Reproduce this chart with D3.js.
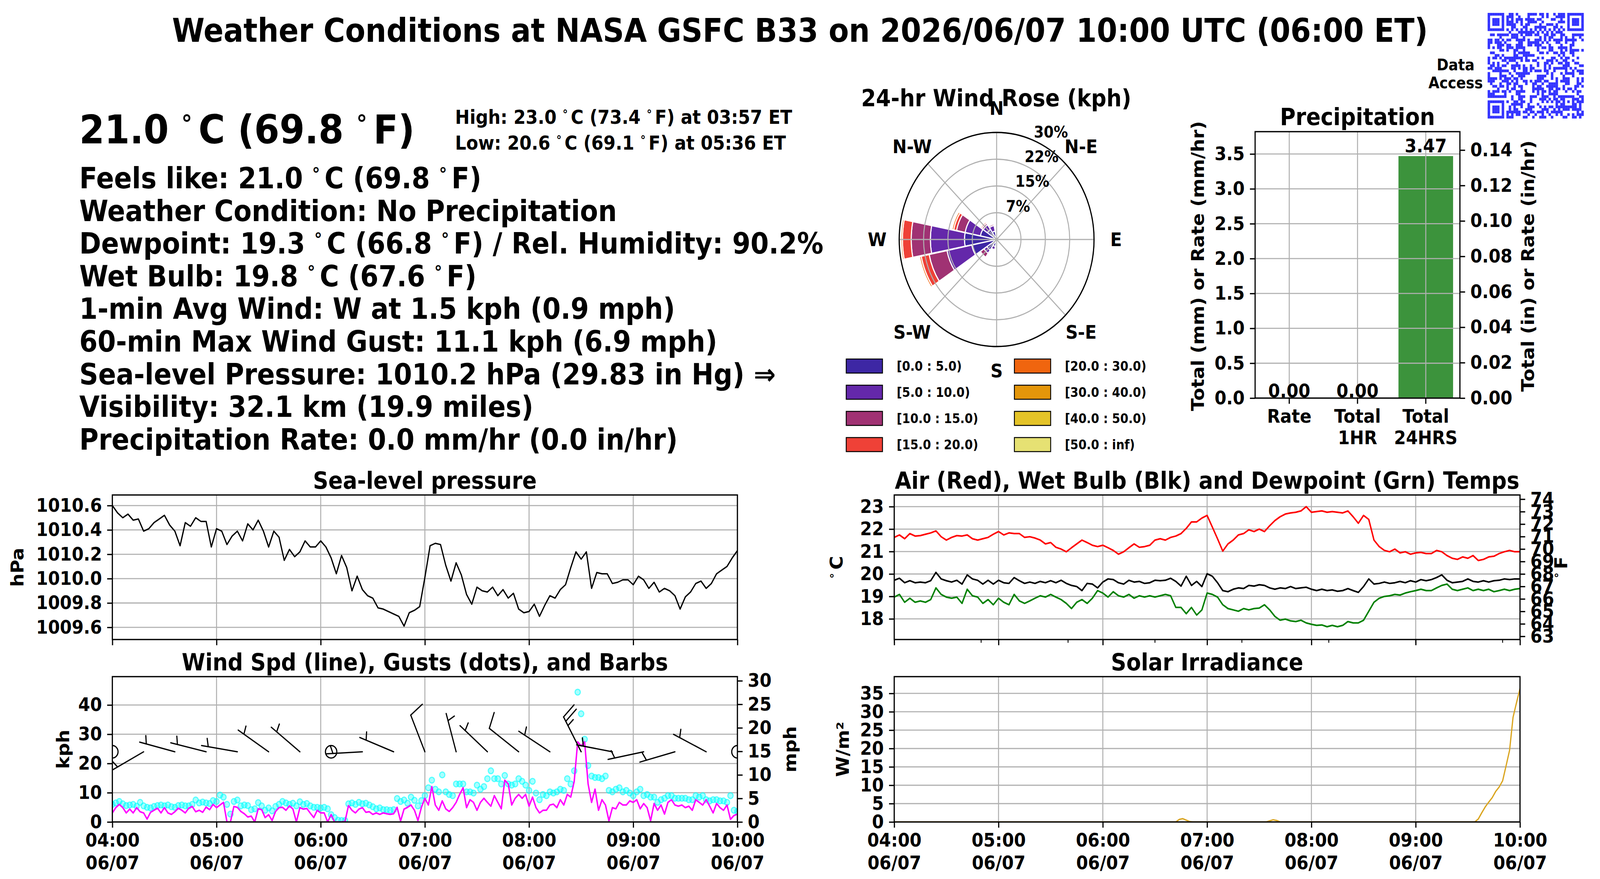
<!DOCTYPE html>
<html>
<head>
<meta charset="utf-8">
<script src="https://cdn.jsdelivr.net/npm/d3@7/dist/d3.min.js"></script>
<style>
  html, body { margin: 0; padding: 0; background: #fff; width: 100%; height: 100%; overflow: hidden; }
  #chart { display: block; width: 100vw; height: 100vh; }
  svg text { font-family: "DejaVu Sans", sans-serif; font-weight: bold; fill: #000; white-space: pre; }
</style>
</head>
<body>
<svg id="chart" viewBox="0 0 4500 2250" preserveAspectRatio="none"></svg>
<script>
// ---- data (06/07 04:00 - 10:00 UTC) ----

// sea-level pressure, hPa, one value every 3 min from 04:00
var pressure = [1010.60,1010.54,1010.50,1010.53,1010.48,1010.49,1010.39,1010.41,1010.46,1010.49,
  1010.52,1010.44,1010.39,1010.27,1010.46,1010.43,1010.50,1010.47,1010.47,1010.26,
  1010.41,1010.39,1010.28,1010.35,1010.39,1010.31,1010.45,1010.40,1010.48,1010.39,
  1010.26,1010.39,1010.34,1010.15,1010.24,1010.18,1010.22,1010.31,1010.26,1010.26,
  1010.31,1010.26,1010.17,1010.04,1010.19,1010.09,1009.90,1010.02,1009.91,1009.86,
  1009.84,1009.76,1009.75,1009.73,1009.71,1009.69,1009.61,1009.72,1009.74,1009.77,
  1010.01,1010.27,1010.29,1010.28,1010.11,1009.98,1010.13,1010.03,1009.87,1009.79,
  1009.93,1009.90,1009.89,1009.93,1009.86,1009.91,1009.84,1009.88,1009.75,1009.72,
  1009.73,1009.79,1009.69,1009.78,1009.86,1009.84,1009.91,1009.95,1010.09,1010.22,
  1010.16,1010.22,1009.92,1010.05,1010.04,1010.04,1009.96,1009.97,1009.99,1009.99,
  1009.95,1010.02,1009.99,1009.92,1009.97,1009.89,1009.92,1009.90,1009.86,1009.75,
  1009.85,1009.89,1009.96,1009.98,1009.92,1009.96,1010.04,1010.07,1010.10,1010.17,
  1010.23];

// temperatures, deg C, every 3 min from 04:00
var airTemp = [21.63,21.74,21.57,21.80,21.69,21.71,21.77,21.83,21.92,21.66,
  21.51,21.63,21.71,21.69,21.74,21.57,21.51,21.57,21.63,21.77,
  21.89,21.74,21.83,21.80,21.80,21.63,21.66,21.60,21.51,21.34,
  21.40,21.19,21.11,20.99,21.17,21.34,21.51,21.40,21.28,21.22,
  21.28,21.17,21.05,20.88,20.99,21.17,21.34,21.19,21.22,21.28,
  21.51,21.57,21.51,21.63,21.69,21.80,22.03,22.32,22.32,22.49,
  22.61,22.09,21.57,21.02,21.34,21.51,21.74,21.80,21.97,21.89,
  22.00,21.89,22.15,22.38,22.55,22.67,22.72,22.75,22.81,23.00,
  22.75,22.78,22.81,22.75,22.78,22.75,22.72,22.81,22.55,22.26,
  22.61,22.43,21.51,21.22,21.05,20.99,21.11,20.94,20.99,20.88,
  20.94,20.96,20.91,20.91,21.05,20.99,20.82,20.70,20.65,20.76,
  20.70,20.82,20.60,20.65,20.76,20.79,20.91,20.99,21.05,20.99,
  20.99];
var wetBulb = [19.72,19.81,19.61,19.70,19.61,19.64,19.61,19.70,20.07,19.78,
  19.70,19.64,19.72,19.55,19.96,19.78,19.72,19.55,19.72,19.55,
  19.72,19.61,19.58,19.84,19.70,19.58,19.64,19.58,19.67,19.61,
  19.70,19.61,19.72,19.58,19.49,19.44,19.26,19.58,19.55,19.38,
  19.64,19.78,19.75,19.61,19.55,19.72,19.64,19.67,19.58,19.61,
  19.72,19.70,19.72,19.81,19.67,19.46,19.90,19.49,19.67,19.44,
  20.01,19.90,19.61,19.26,19.21,19.32,19.38,19.35,19.49,19.46,
  19.52,19.49,19.38,19.32,19.38,19.35,19.44,19.35,19.38,19.41,
  19.32,19.26,19.32,19.26,19.29,19.23,19.26,19.35,19.26,19.18,
  19.44,19.78,19.55,19.58,19.64,19.58,19.61,19.67,19.61,19.70,
  19.64,19.75,19.70,19.75,19.84,19.96,19.72,19.61,19.64,19.67,
  19.78,19.67,19.64,19.70,19.64,19.70,19.72,19.78,19.75,19.78,
  19.78];
var dewPoint = [18.97,19.09,18.74,18.92,18.74,18.80,18.74,18.86,19.38,19.09,
  18.97,18.92,18.97,18.69,19.32,19.03,18.97,18.69,18.86,18.63,
  18.92,18.74,18.63,19.09,18.80,18.69,18.80,18.92,19.03,18.97,
  19.09,18.97,18.86,18.69,18.46,18.74,18.86,18.69,18.92,19.26,
  19.15,18.97,19.21,19.03,18.97,19.09,18.92,19.03,18.97,19.03,
  18.97,19.03,19.09,19.03,18.51,18.51,18.23,18.51,18.17,18.40,
  19.15,19.09,18.97,18.63,18.46,18.40,18.34,18.46,18.40,18.46,
  18.48,18.63,18.40,18.11,17.94,17.99,17.91,17.88,17.94,17.82,
  17.76,17.71,17.73,17.65,17.71,17.65,17.71,17.88,17.82,17.82,
  17.94,18.34,18.74,18.92,19.00,19.03,19.09,19.06,19.15,19.21,
  19.26,19.32,19.26,19.26,19.38,19.49,19.55,19.32,19.26,19.32,
  19.38,19.26,19.32,19.26,19.32,19.21,19.26,19.32,19.26,19.32,
  19.35];

// wind speed and gusts, kph, every 2 min from 04:00
var windSpd = [3.1,4.9,6.0,4.9,3.1,4.4,3.1,4.9,3.5,3.1,
  1.0,3.3,4.0,4.7,3.1,4.9,3.1,2.6,3.5,4.7,
  4.0,3.1,4.7,5.3,3.5,4.0,3.3,5.1,4.2,6.0,
  4.9,5.8,6.7,0,0,5.3,5.0,3.6,2.8,1.7,
  2.0,0,4.5,4.2,1.5,2.5,0.5,3.6,4.9,5.0,
  4.0,5.5,4.4,0,4.9,4.4,4.6,3.0,1.5,4.0,
  3.1,3.1,0,2.5,0,0,0,0.2,5.6,4.0,
  3.1,4.4,4.9,3.3,3.5,2.6,3.1,2.6,3.1,2.8,
  2.6,2.8,5.0,0.3,4.4,5.0,5.8,4.0,0.5,5.0,
  8.1,5.8,12.1,5.8,4.0,7.2,4.5,3.6,4.9,6.7,
  9.4,11.7,4.9,7.6,6.7,4.0,6.7,8.1,6.7,5.4,
  9.0,6.7,4.5,14.3,13.0,5.8,8.1,9.4,8.1,9.4,
  5.4,8.5,4.9,3.1,4.0,4.0,5.8,6.1,4.9,7.6,
  5.8,9.4,8.5,13.9,27.4,26.0,27.4,13.0,6.7,11.2,
  4.0,7.6,5.8,0.4,4.9,4.5,6.7,5.8,5.8,7.2,
  6.7,7.6,4.5,6.3,4.9,0.4,6.3,4.0,5.8,2.7,
  6.7,7.6,5.8,5.4,5.8,4.9,5.4,4.0,7.6,6.7,
  5.8,7.6,5.4,3.1,6.3,4.9,4.0,5.8,0.9,2.2,
  2.7];
var windGust = [6.0,6.5,7.0,6.2,5.6,5.8,6.0,5.4,6.7,5.5,
  5.0,4.8,5.3,5.6,5.8,5.5,5.8,5.2,5.0,5.6,
  5.8,5.5,5.5,6.0,7.5,6.5,6.8,6.5,6.3,7.3,
  7.0,9.2,8.5,6.0,2.7,7.0,7.5,5.5,5.8,5.6,
  4.2,4.5,6.6,5.5,4.0,4.8,3.8,5.3,6.0,7.0,
  6.5,6.0,6.4,5.5,6.9,6.0,6.3,5.5,5.0,5.0,
  4.8,5.0,4.5,2.5,1.5,0.6,0.5,0.5,6.2,6.5,
  6.0,6.7,6.2,6.4,5.8,5.2,4.5,4.8,4.2,4.2,
  4.0,4.2,8.0,7.0,7.5,6.4,8.5,7.4,5.5,7.3,
  9.0,11.7,14.3,11.2,10.3,16.1,10.3,9.4,9.0,13.0,
  13.0,13.0,10.3,10.3,9.9,12.6,11.2,12.1,14.8,17.5,
  14.8,14.8,13.0,15.9,13.0,12.6,13.0,14.8,13.9,12.6,
  10.8,13.9,9.9,7.6,9.4,9.0,10.3,9.9,10.3,11.2,
  10.8,14.8,13.0,17.5,44.4,37.0,28.3,19.3,15.7,15.2,
  15.2,14.8,15.7,10.8,10.3,11.2,11.7,10.3,10.8,9.9,
  9.0,10.3,11.2,9.0,9.4,8.5,8.5,6.7,7.6,8.1,
  9.0,9.0,8.1,8.1,8.1,8.1,7.6,7.6,9.0,8.5,
  9.0,7.6,7.2,7.6,7.6,7.2,7.2,6.7,9.0,4.0,
  3.6];

// solar irradiance, W/m2, every 2 min from 04:00
var solar = [0,0,0,0,0,0,0,0,0,0,0,0,0,0,0,0,0,0,0,0,
  0,0,0,0,0,0,0,0,0,0,0,0,0,0,0,0,0,0,0,0,
  0,0,0,0,0,0,0,0,0,0,0,0,0,0,0,0,0,0,0,0,
  0,0,0,0,0,0,0,0,0,0,0,0,0,0,0,0,0,0,0,0,
  0,0,0.7,0.9,0.5,0.1,0,0,0,0,0,0,0,0,0,0,0,0,0,0,
  0,0,0,0,0,0,0,0,0.3,0.6,0.4,0,0,0,0,0,0,0,0,0,
  0,0,0,0,0,0,0,0,0,0,0,0,0,0,0,0,0,0,0,0,
  0,0,0,0,0,0,0,0,0,0,0,0,0,0,0,0,0,0,0,0,
  0,0,0,0,0,0,0,0,0.8,2.5,4.1,5.4,6.6,8.3,9.5,11.2,15.3,19.5,28.5,32.5,
  36.3];

// wind barbs (kph, direction wind blows from)
var barbTimes = ["04:00","04:18","04:36","04:54","05:12","05:30","05:48","06:06","06:24","06:42",
  "07:00","07:18","07:36","07:54","08:12","08:30","08:48","09:06","09:24","09:42","10:00"];
var barbSpd = [0,5,5,5,5,5,5,0,5,5,10,5,5,10,5,25,5,5,5,5,0];
var barbDir = [0,242,284,283,279,303,308,0,267,291,337,344,311,306,301,331,280,259,255,296,0];
var barbLevel = 24;

// 24-hr wind rose, percent of time per direction and speed bin (kph)
var roseDirs = ["N","NNE","NE","ENE","E","ESE","SE","SSE","S","SSW","SW","WSW","W","WNW","NW","NNW"];
var roseBins = ["[0.0 : 5.0)","[5.0 : 10.0)","[10.0 : 15.0)","[15.0 : 20.0)",
  "[20.0 : 30.0)","[30.0 : 40.0)","[40.0 : 50.0)","[50.0 : inf)"];
var roseColors = ["#3d27a4","#6428aa","#a03273","#ef4137","#f0650f","#e4960a","#e4c328","#e6e173"];
var roseFreq = [
  [1.0,0.4,0.3,0.2,0.2,0.2,0.3,0.4,0.8,2.0,3.6,7.8,9.9,5.1,3.4,2.4],
  [0.3,0.1,0,0,0,0,0,0.1,0.2,0.9,1.1,7.8,10.5,4.8,1.6,1.6],
  [0,0,0,0,0,0,0,0,0,0,1.3,5.6,5.9,2.7,0.5,0.4],
  [0,0,0,0,0,0,0,0,0,0,0,2.5,2.7,0.9,0.4,0],
  [0,0,0,0,0,0,0,0,0,0,0,0.5,0.45,0.5,0,0],
  [0,0,0,0,0,0,0,0,0,0,0,0,0,0,0,0],
  [0,0,0,0,0,0,0,0,0,0,0,0,0,0,0,0],
  [0,0,0,0,0,0,0,0,0,0,0,0,0,0,0,0]];
var roseTicks = [7.5, 15, 22.5, 30];
var compass = ["N","N-E","E","S-E","S","S-W","W","N-W"];

// precipitation
var precipCats = ["Rate", "Total\n1HR", "Total\n24HRS"];
var precipVals = [0.00, 0.00, 3.47];

// text block
var mainTitle = "Weather Conditions at NASA GSFC B33 on 2026/06/07 10:00 UTC (06:00 ET)";
var bigTemp = "21.0 °C (69.8 °F)";
var highLow = ["High: 23.0 °C (73.4 °F) at 03:57 ET", "Low: 20.6 °C (69.1 °F) at 05:36 ET"];
var infoLines = [
  "Feels like: 21.0 °C (69.8 °F)",
  "Weather Condition: No Precipitation",
  "Dewpoint: 19.3 °C (66.8 °F) / Rel. Humidity: 90.2%",
  "Wet Bulb: 19.8 °C (67.6 °F)",
  "1-min Avg Wind: W at 1.5 kph (0.9 mph)",
  "60-min Max Wind Gust: 11.1 kph (6.9 mph)",
  "Sea-level Pressure: 1010.2 hPa (29.83 in Hg) \u21d2",
  "Visibility: 32.1 km (19.9 miles)",
  "Precipitation Rate: 0.0 mm/hr (0.0 in/hr)"];

// ---- drawing ----
var svg = d3.select("#chart");
var GRID = "#b0b0b0", SPINE = 3.3, TICK = 14.6;
var clipN = 0;

function T(min) { return new Date(Date.UTC(2026, 5, 7, 4, 0) + min * 60000); }
var t0 = T(0), t1 = T(360);
var hours = d3.utcHour.range(t0, T(361));
var times3 = pressure.map(function(d, i) { return T(i * 3); });
var times2 = windSpd.map(function(d, i) { return T(i * 2); });
function hm(s) { var p = s.split(":"); return T((+p[0] - 4) * 60 + (+p[1])); }

// text with small raised degree signs like matplotlib's $^\circ$
function degText(sel, str, fs) {
  var parts = str.split("\u00b0");
  parts.forEach(function(p, i) {
    if (i === 0) { sel.append("tspan").text(p); return; }
    sel.append("tspan").attr("font-size", fs * 0.6).attr("dy", -fs * 0.28).text("\u00b0");
    sel.append("tspan").attr("font-size", fs).attr("dy", fs * 0.28).attr("dx", fs * 0.17).text(p);
  });
  return sel;
}

function styleAxis(ax) {
  ax.attr("font-size", 48).attr("font-family", "DejaVu Sans").attr("font-weight", "bold");
  ax.select(".domain").remove();
  ax.selectAll(".tick line").attr("stroke", "#000").attr("stroke-width", SPINE);
  ax.selectAll(".tick text").attr("fill", "#000");
  return ax;
}

function ylabel(x, y, str) {
  var t = svg.append("text").attr("transform", "translate(" + x + "," + y + ") rotate(-90)")
    .attr("text-anchor", "middle").attr("dy", "0.35em").attr("font-size", 48);
  return degText(t, str, 48);
}

function panel(b, yDomain, yTicks, title) {
  var x = d3.scaleUtc().domain([t0, t1]).range([b.left, b.right]);
  var y = d3.scaleLinear().domain(yDomain).range([b.bottom, b.top]);
  var g = svg.append("g");
  g.selectAll(".vg").data(hours).join("line")
    .attr("x1", function(d) { return x(d); }).attr("x2", function(d) { return x(d); })
    .attr("y1", b.top).attr("y2", b.bottom).attr("stroke", GRID).attr("stroke-width", 2.8);
  g.selectAll(".hg").data(yTicks).join("line")
    .attr("x1", b.left).attr("x2", b.right)
    .attr("y1", function(d) { return y(d); }).attr("y2", function(d) { return y(d); })
    .attr("stroke", GRID).attr("stroke-width", 2.8);
  var id = "clip" + (clipN++);
  svg.append("clipPath").attr("id", id).append("rect")
    .attr("x", b.left).attr("y", b.top).attr("width", b.right - b.left).attr("height", b.bottom - b.top);
  var plot = svg.append("g").attr("clip-path", "url(#" + id + ")");
  svg.append("text").attr("x", (b.left + b.right) / 2).attr("y", b.top - 16)
    .attr("text-anchor", "middle").attr("font-size", 60).text(title);
  return { x: x, y: y, plot: plot, b: b };
}

function frame(p, yTicks, yFmt, withLabels) {
  var b = p.b;
  svg.append("rect").attr("x", b.left).attr("y", b.top).attr("width", b.right - b.left)
    .attr("height", b.bottom - b.top).attr("fill", "none").attr("stroke", "#000").attr("stroke-width", SPINE);
  styleAxis(svg.append("g").attr("transform", "translate(" + b.left + ",0)")
    .call(d3.axisLeft(p.y).tickValues(yTicks).tickFormat(yFmt).tickSize(TICK).tickPadding(TICK)));
  var bx = styleAxis(svg.append("g").attr("transform", "translate(0," + b.bottom + ")")
    .call(d3.axisBottom(p.x).tickValues(hours).tickSize(TICK).tickPadding(TICK)));
  bx.selectAll(".tick text").each(function(d) {
    var t = d3.select(this).text(null);
    if (!withLabels) return;
    t.append("tspan").attr("x", 0).text(d3.utcFormat("%H:%M")(d));
    t.append("tspan").attr("x", 0).attr("dy", "1.2em").text(d3.utcFormat("%m/%d")(d));
  });
}

function lineOf(p, times, vals, color, w) {
  p.plot.append("path").datum(vals)
    .attr("d", d3.line().x(function(d, i) { return p.x(times[i]); }).y(function(d) { return p.y(d); }))
    .attr("fill", "none").attr("stroke", color).attr("stroke-width", w).attr("stroke-linejoin", "round");
}

// ---- top text ----
svg.append("text").attr("x", 2250).attr("y", 107).attr("text-anchor", "middle").attr("font-size", 83).text(mainTitle);
degText(svg.append("text").attr("x", 223).attr("y", 367).attr("font-size", 102), bigTemp, 102);
highLow.forEach(function(s, i) {
  degText(svg.append("text").attr("x", 1280).attr("y", 317 + i * 66).attr("font-size", 49), s, 49);
});
infoLines.forEach(function(s, i) {
  degText(svg.append("text").attr("x", 223).attr("y", 482 + i * 83.6).attr("font-size", 74), s, 74);
});

// ---- QR code block (decorative) ----
(function() {
  var n = 41, x0 = 4184, y0 = 33, s = 270 / n, g = svg.append("g").attr("fill", "#3333ff");
  function finderOn(i, j, r0, c0) {
    var di = i - r0, dj = j - c0;
    if (di < -1 || di > 7 || dj < -1 || dj > 7) return null;
    if (di < 0 || di > 6 || dj < 0 || dj > 6) return false;
    var m = Math.max(Math.abs(di - 3), Math.abs(dj - 3));
    return m === 3 || m <= 1;
  }
  function bit(i, j) {
    var h = i * 1009 + j * 7 + 12345;
    h = Math.imul(h ^ (h >>> 16), 0x45d9f3b);
    h = Math.imul(h ^ (h >>> 16), 0x45d9f3b);
    h ^= h >>> 16;
    return (h & 1) === 1;
  }
  for (var i = 0; i < n; i++) for (var j = 0; j < n; j++) {
    var on = finderOn(i, j, 0, 0);
    if (on === null) on = finderOn(i, j, 0, n - 7);
    if (on === null) on = finderOn(i, j, n - 7, 0);
    if (on === null) {
      var ai = Math.abs(i - 34), aj = Math.abs(j - 34);
      if (ai <= 2 && aj <= 2) on = Math.max(ai, aj) !== 1;
      else if (i === 6 || j === 6) on = (i + j) % 2 === 0;
      else on = bit(i, j);
    }
    if (on) g.append("rect").attr("x", x0 + j * s).attr("y", y0 + i * s).attr("width", s + 0.4).attr("height", s + 0.4);
  }
  svg.append("text").attr("x", 4094).attr("y", 180).attr("text-anchor", "middle").attr("font-size", 40).text("Data");
  svg.append("text").attr("x", 4094).attr("y", 226).attr("text-anchor", "middle").attr("font-size", 40).text("Access");
})();

// ---- wind rose ----
(function() {
  var cx = 2803, cy = 613, R = 274;
  var r = d3.scaleLinear().domain([0, 30]).range([0, R]);
  var g = svg.append("g").attr("transform", "translate(" + cx + "," + cy + ")");
  var arc = d3.arc();
  var half = 11.0 * Math.PI / 180;
  roseDirs.forEach(function(dname, i) {
    var a = i * 22.5 * Math.PI / 180, cum = 0;
    roseFreq.forEach(function(bin, k) {
      var v = bin[i];
      if (v <= 0) return;
      g.append("path").attr("d", arc({ innerRadius: r(cum), outerRadius: r(cum + v), startAngle: a - half, endAngle: a + half }))
        .attr("fill", roseColors[k]).attr("stroke", "#fff").attr("stroke-width", 3);
      cum += v;
    });
  });
  roseTicks.forEach(function(t) {
    g.append("circle").attr("r", r(t)).attr("fill", "none").attr("stroke", GRID).attr("stroke-width", 2.8);
  });
  d3.range(8).forEach(function(k) {
    var a = k * Math.PI / 4;
    g.append("line").attr("x1", 0).attr("y1", 0).attr("x2", R * Math.sin(a)).attr("y2", -R * Math.cos(a))
      .attr("stroke", GRID).attr("stroke-width", 2.8);
  });
  g.append("circle").attr("r", R).attr("fill", "none").attr("stroke", "#000").attr("stroke-width", SPINE);
  var la = 22.5 * Math.PI / 180;
  roseTicks.forEach(function(t) {
    g.append("text").attr("x", r(t) * Math.sin(la)).attr("y", -r(t) * Math.cos(la) - 8)
      .attr("font-size", 40).text(Math.floor(t) + "%");
  });
  compass.forEach(function(c, k) {
    var a = k * Math.PI / 4;
    g.append("text").attr("x", 336 * Math.sin(a)).attr("y", -336 * Math.cos(a)).attr("dy", "0.35em")
      .attr("text-anchor", "middle").attr("font-size", 48).text(c);
  });
  svg.append("text").attr("x", 2802).attr("y", 272).attr("text-anchor", "middle").attr("font-size", 60)
    .text("24-hr Wind Rose (kph)");
  roseBins.forEach(function(lbl, k) {
    var col = Math.floor(k / 4), row = k % 4;
    var lx = [2380, 2853][col], ly = 919 + row * 67;
    svg.append("rect").attr("x", lx).attr("y", ly).attr("width", 102).attr("height", 36)
      .attr("fill", roseColors[k]).attr("stroke", "#000").attr("stroke-width", 2.5);
    svg.append("text").attr("x", lx + 142).attr("y", ly + 18).attr("dy", "0.35em").attr("font-size", 33).text(lbl);
  });
})();

// ---- precipitation bars ----
(function() {
  var b = { left: 3530, right: 4106, top: 337, bottom: 1019 };
  var x = d3.scaleBand().domain(precipCats).range([b.left, b.right]).paddingInner(0.2).paddingOuter(0.1);
  var y = d3.scaleLinear().domain([0, 3.82]).range([b.bottom, b.top]);
  var yIn = d3.scaleLinear().domain([0, 3.82 / 25.4]).range([b.bottom, b.top]);
  var yt = d3.range(0, 3.51, 0.5);
  svg.append("g").selectAll("rect").data(precipVals).join("rect")
    .attr("x", function(d, i) { return x(precipCats[i]); }).attr("width", x.bandwidth())
    .attr("y", function(d) { return y(d); }).attr("height", function(d) { return b.bottom - y(d); })
    .attr("fill", "#3c933c");
  var g = svg.append("g");
  g.selectAll(".v").data(precipCats).join("line")
    .attr("x1", function(d) { return x(d) + x.bandwidth() / 2; }).attr("x2", function(d) { return x(d) + x.bandwidth() / 2; })
    .attr("y1", b.top).attr("y2", b.bottom).attr("stroke", GRID).attr("stroke-width", 2.8);
  g.selectAll(".h").data(yt).join("line")
    .attr("x1", b.left).attr("x2", b.right).attr("y1", function(d) { return y(d); }).attr("y2", function(d) { return y(d); })
    .attr("stroke", GRID).attr("stroke-width", 2.8);
  svg.append("g").selectAll("text").data(precipVals).join("text")
    .attr("x", function(d, i) { return x(precipCats[i]) + x.bandwidth() / 2; })
    .attr("y", function(d) { return y(d) - (d > 0 ? 9 : 2); })
    .attr("text-anchor", "middle").attr("font-size", 48).text(function(d) { return d3.format(".2f")(d); });
  svg.append("rect").attr("x", b.left).attr("y", b.top).attr("width", b.right - b.left).attr("height", b.bottom - b.top)
    .attr("fill", "none").attr("stroke", "#000").attr("stroke-width", SPINE);
  styleAxis(svg.append("g").attr("transform", "translate(" + b.left + ",0)")
    .call(d3.axisLeft(y).tickValues(yt).tickFormat(d3.format(".1f")).tickSize(TICK).tickPadding(TICK)));
  styleAxis(svg.append("g").attr("transform", "translate(" + b.right + ",0)")
    .call(d3.axisRight(yIn).tickValues(d3.range(0, 0.141, 0.02)).tickFormat(d3.format(".2f")).tickSize(TICK).tickPadding(TICK)));
  var bx = styleAxis(svg.append("g").attr("transform", "translate(0," + b.bottom + ")")
    .call(d3.axisBottom(x).tickSize(TICK).tickPadding(TICK)));
  bx.selectAll(".tick text").each(function(d) {
    var t = d3.select(this).text(null);
    d.split("\n").forEach(function(s, i) {
      var ts = t.append("tspan").attr("x", 0).text(s);
      if (i) ts.attr("dy", "1.15em");
    });
  });
  svg.append("text").attr("x", (b.left + b.right) / 2).attr("y", 320).attr("text-anchor", "middle")
    .attr("font-size", 60).text("Precipitation");
  ylabel(3369, 681, "Total (mm) or Rate (mm/hr)");
  ylabel(4298, 681, "Total (in) or Rate (in/hr)");
})();

// ---- sea-level pressure ----
var pTicks = d3.range(1009.6, 1010.61, 0.2);
var pp = panel({ left: 316, right: 2074, top: 1267, bottom: 1637 }, [1009.5, 1010.687], pTicks, "Sea-level pressure");
lineOf(pp, times3, pressure, "#000", 3.5);
frame(pp, pTicks, d3.format(".1f"), false);
ylabel(49, 1452, "hPa");

// ---- wind ----
var wTicks = [0, 10, 20, 30, 40];
var pw = panel({ left: 316, right: 2074, top: 1732, bottom: 2104 }, [0, 49.7], wTicks, "Wind Spd (line), Gusts (dots), and Barbs");
pw.plot.append("g").selectAll("circle").data(windGust).join("circle")
  .attr("cx", function(d, i) { return pw.x(times2[i]); }).attr("cy", function(d) { return pw.y(d); })
  .attr("r", 7.5).attr("fill", "#00ffff").attr("fill-opacity", 0.35)
  .attr("stroke", "#00ffff").attr("stroke-opacity", 0.6).attr("stroke-width", 3);
lineOf(pw, times2, windSpd, "#ff00ff", 4);
(function() {
  var L = 102, g = pw.plot.append("g").attr("fill", "none").attr("stroke", "#000").attr("stroke-width", SPINE);
  barbTimes.forEach(function(ts, i) {
    var bx = pw.x(hm(ts)), by = pw.y(barbLevel), spd = barbSpd[i];
    if (spd < 5) { g.append("circle").attr("cx", bx).attr("cy", by).attr("r", 16); return; }
    var a = barbDir[i] * Math.PI / 180, s = [Math.sin(a), -Math.cos(a)], q = [-s[1], s[0]];
    function P(off, h) { return [bx + s[0] * off + q[0] * h, by + s[1] * off + q[1] * h]; }
    var segs = [[P(0, 0), P(L, 0)]], off = L, rem = spd;
    var nFlag = Math.floor(rem / 50); rem -= nFlag * 50;
    var nBarb = Math.floor(rem / 10); rem -= nBarb * 10;
    for (var f = 0; f < nFlag; f++) { segs.push([P(off, 0), P(off - 0.125 * L, 0.4 * L), P(off - 0.25 * L, 0)]); off -= 0.375 * L; }
    for (var k = 0; k < nBarb; k++) { segs.push([P(off, 0), P(off + 0.125 * L, 0.4 * L)]); off -= 0.125 * L; }
    if (rem >= 5) {
      if (off === L) off -= 1.5 * 0.125 * L;
      segs.push([P(off, 0), P(off + 0.0625 * L, 0.2 * L)]);
    }
    segs.forEach(function(sg) { g.append("path").attr("d", d3.line()(sg)).attr("stroke-linecap", "round"); });
  });
})();
frame(pw, wTicks, d3.format("d"), true);
styleAxis(svg.append("g").attr("transform", "translate(2074,0)")
  .call(d3.axisRight(d3.scaleLinear().domain([0, 49.7 / 1.609344]).range([2104, 1732]))
    .tickValues([0, 5, 10, 15, 20, 25, 30]).tickSize(TICK).tickPadding(TICK)));
ylabel(178, 1918, "kph");
ylabel(2222, 1918, "mph");

// ---- temperatures ----
var tTicks = [18, 19, 20, 21, 22, 23];
var pt = panel({ left: 2515, right: 4275, top: 1267, bottom: 1637 }, [17.08, 23.52], tTicks, "Air (Red), Wet Bulb (Blk) and Dewpoint (Grn) Temps");
lineOf(pt, times3, airTemp, "#ff0000", 4);
lineOf(pt, times3, wetBulb, "#000", 4);
lineOf(pt, times3, dewPoint, "#008000", 4);
frame(pt, tTicks, d3.format("d"), false);
svg.append("g").selectAll("line").data(d3.range(0, 360, 50)).join("line")
  .attr("x1", function(d) { return pt.x(T(d)); }).attr("x2", function(d) { return pt.x(T(d)); })
  .attr("y1", 1637).attr("y2", 1637 + 8.3).attr("stroke", "#000").attr("stroke-width", 2.5);
styleAxis(svg.append("g").attr("transform", "translate(4275,0)")
  .call(d3.axisRight(d3.scaleLinear().domain([17.08 * 9 / 5 + 32, 23.52 * 9 / 5 + 32]).range([1637, 1267]))
    .tickValues(d3.range(63, 75)).tickSize(TICK).tickPadding(TICK)));
ylabel(2370, 1452, "\u00b0C");
ylabel(4408, 1452, "\u00b0F");

// ---- solar ----
var sTicks = [0, 5, 10, 15, 20, 25, 30, 35];
var ps = panel({ left: 2515, right: 4275, top: 1732, bottom: 2104 }, [0, 39.57], sTicks, "Solar Irradiance");
lineOf(ps, times2, solar, "#daa520", 3.5);
frame(ps, sTicks, d3.format("d"), true);
ylabel(2370, 1918, "W/m\u00b2");
</script>
</body>
</html>
